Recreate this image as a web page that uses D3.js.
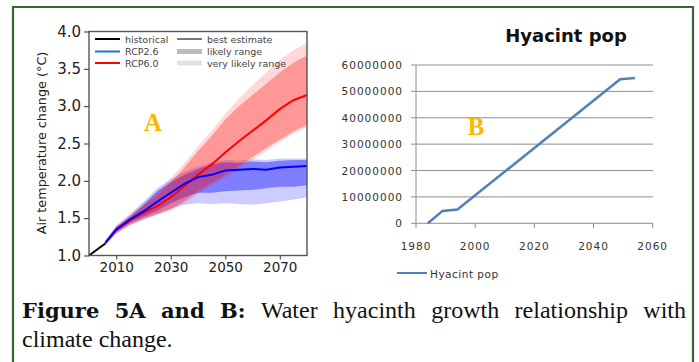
<!DOCTYPE html>
<html>
<head>
<meta charset="utf-8">
<script src="https://cdn.jsdelivr.net/npm/d3@7"></script>
<style>
body { margin: 0; background: #fff; }
</style>
</head>
<body>
<svg width="699" height="362"></svg>
<script>
// ---- panel A: air temperature change ----
var histYears = [2000, 2003, 2006];
var histValues = [1.0, 1.08, 1.16];

var rcpYears = [2006, 2010, 2015, 2020, 2025, 2030, 2035, 2040, 2045, 2050, 2055, 2060, 2065, 2070, 2075, 2080];

var rcp60Best     = [1.17, 1.34, 1.47, 1.57, 1.66, 1.78, 1.93, 2.08, 2.22, 2.38, 2.53, 2.67, 2.81, 2.96, 3.08, 3.15];
var rcp60Low      = [1.15, 1.30, 1.42, 1.50, 1.56, 1.62, 1.73, 1.86, 1.97, 2.08, 2.20, 2.32, 2.44, 2.55, 2.66, 2.75];
var rcp60High     = [1.19, 1.38, 1.52, 1.66, 1.80, 1.98, 2.18, 2.40, 2.60, 2.82, 3.00, 3.15, 3.30, 3.45, 3.58, 3.68];
var rcp60VeryLow  = [1.14, 1.28, 1.40, 1.48, 1.54, 1.60, 1.70, 1.82, 1.94, 2.04, 2.16, 2.28, 2.40, 2.52, 2.63, 2.72];
var rcp60VeryHigh = [1.20, 1.40, 1.55, 1.70, 1.85, 2.03, 2.24, 2.46, 2.67, 2.90, 3.10, 3.28, 3.45, 3.62, 3.75, 3.85];

var rcp26Best     = [1.17, 1.35, 1.48, 1.59, 1.72, 1.84, 1.96, 2.05, 2.08, 2.14, 2.15, 2.16, 2.15, 2.18, 2.19, 2.20];
var rcp26Low      = [1.15, 1.32, 1.44, 1.52, 1.60, 1.70, 1.78, 1.84, 1.84, 1.86, 1.87, 1.88, 1.90, 1.92, 1.92, 1.94];
var rcp26High     = [1.19, 1.38, 1.52, 1.68, 1.86, 1.98, 2.08, 2.16, 2.22, 2.25, 2.24, 2.26, 2.25, 2.27, 2.28, 2.28];
var rcp26VeryLow  = [1.14, 1.30, 1.41, 1.48, 1.55, 1.63, 1.68, 1.70, 1.69, 1.70, 1.69, 1.68, 1.70, 1.72, 1.75, 1.78];
var rcp26VeryHigh = [1.20, 1.40, 1.55, 1.72, 1.90, 2.02, 2.12, 2.19, 2.25, 2.28, 2.27, 2.29, 2.28, 2.30, 2.30, 2.30];

var tempTicks = [1.0, 1.5, 2.0, 2.5, 3.0, 3.5, 4.0];
var yearTicksA = [2010, 2030, 2050, 2070];

// ---- panel B: hyacinth population ----
var popYears = [1984, 1989, 1994, 2049, 2054];
var popValues = [0, 4700000, 5200000, 54600000, 55100000];
var popTicks = [0, 10000000, 20000000, 30000000, 40000000, 50000000, 60000000];
var yearTicksB = [1980, 2000, 2020, 2040, 2060];

var captionBold = 'Figure 5A and B:';
var captionLine1 = 'Water hyacinth growth relationship with';
var captionLine2 = 'climate change.';

var svg = d3.select('svg');

// outer green frame (open at the bottom)
svg.append('path')
    .attr('d', 'M13,363 L13,7 L693,7 L693,363')
    .attr('fill', 'none')
    .attr('stroke', '#3b6634')
    .attr('stroke-width', 2.2);

// ================= panel A =================
var xA = d3.scaleLinear().domain([2000, 2080]).range([89, 307]);
var yA = d3.scaleLinear().domain([1, 4]).range([255.5, 31.5]);

var gA = svg.append('g');

function band(lo, hi) {
    return d3.area()
        .x(function(d, i) { return xA(rcpYears[i]); })
        .y0(function(d, i) { return yA(lo[i]); })
        .y1(function(d, i) { return yA(hi[i]); })(rcpYears);
}
function line(years, vals) {
    return d3.line()
        .x(function(d, i) { return xA(years[i]); })
        .y(function(d, i) { return yA(vals[i]); })(years);
}

gA.append('path').attr('d', band(rcp26VeryLow, rcp26VeryHigh)).attr('fill', 'rgba(0,0,255,0.2)');
gA.append('path').attr('d', band(rcp26Low, rcp26High)).attr('fill', 'rgba(0,0,255,0.38)');
gA.append('path').attr('d', band(rcp60VeryLow, rcp60VeryHigh)).attr('fill', 'rgba(255,0,0,0.15)');
gA.append('path').attr('d', band(rcp60Low, rcp60High)).attr('fill', 'rgba(255,0,0,0.3)');

gA.append('path').attr('d', line(rcpYears, rcp60Best))
    .attr('fill', 'none').attr('stroke', '#ff0000').attr('stroke-width', 2);
gA.append('path').attr('d', line(rcpYears, rcp26Best))
    .attr('fill', 'none').attr('stroke', '#0000ff').attr('stroke-width', 2);
gA.append('path').attr('d', line(histYears, histValues))
    .attr('fill', 'none').attr('stroke', '#000').attr('stroke-width', 2);

// frame
gA.append('rect')
    .attr('x', 89).attr('y', 31.5)
    .attr('width', 218).attr('height', 224)
    .attr('fill', 'none').attr('stroke', '#555').attr('stroke-width', 1.4);

gA.append('g')
    .attr('transform', 'translate(89,0)')
    .call(d3.axisLeft(yA).tickValues(tempTicks).tickFormat(d3.format('.1f')).tickSize(5).tickPadding(3))
    .call(function(g) { g.select('.domain').remove(); })
    .call(function(g) {
        g.selectAll('text').attr('font-family', 'DejaVu Sans').attr('font-size', 15).attr('fill', '#222');
        g.selectAll('line').attr('stroke', '#333');
    });

gA.append('g')
    .attr('transform', 'translate(0,255.5)')
    .call(d3.axisBottom(xA).tickValues(yearTicksA).tickFormat(d3.format('d')).tickSize(4).tickPadding(3))
    .call(function(g) { g.select('.domain').remove(); })
    .call(function(g) {
        g.selectAll('text').attr('font-family', 'DejaVu Sans').attr('font-size', 13.5).attr('fill', '#222');
        g.selectAll('line').attr('stroke', '#333');
    });

gA.append('text')
    .attr('transform', 'translate(46,143) rotate(-90)')
    .attr('text-anchor', 'middle')
    .attr('font-family', 'DejaVu Sans')
    .attr('font-size', 12.8)
    .attr('fill', '#222')
    .text('Air temperature change (°C)');

// legend
var legA = [
    { x: 95, y: 39, label: 'historical', color: '#000', w: 2 },
    { x: 95, y: 51.5, label: 'RCP2.6', color: '#1f6fd0', w: 2 },
    { x: 95, y: 63, label: 'RCP6.0', color: '#ff0000', w: 2 },
    { x: 177, y: 39, label: 'best estimate', color: '#777', w: 2 },
    { x: 177, y: 51.5, label: 'likely range', color: '#bbb', w: 5 },
    { x: 177, y: 63, label: 'very likely range', color: '#e2e2e2', w: 5 }
];
legA.forEach(function(d) {
    gA.append('line')
        .attr('x1', d.x).attr('x2', d.x + 25)
        .attr('y1', d.y).attr('y2', d.y)
        .attr('stroke', d.color).attr('stroke-width', d.w);
    gA.append('text')
        .attr('x', d.x + 30).attr('y', d.y + 3.5)
        .attr('font-family', 'DejaVu Sans')
        .attr('font-size', 9.5)
        .attr('fill', '#444')
        .text(d.label);
});

gA.append('text')
    .attr('x', 153).attr('y', 131)
    .attr('text-anchor', 'middle')
    .attr('font-family', 'Liberation Serif')
    .attr('font-weight', 'bold')
    .attr('font-size', 25)
    .attr('fill', '#f6b800')
    .text('A');

// ================= panel B =================
var xB = d3.scaleLinear().domain([1980, 2060]).range([416, 652.7]);
var yB = d3.scaleLinear().domain([0, 60000000]).range([223.3, 65]);

var gB = svg.append('g');

gB.append('text')
    .attr('x', 566).attr('y', 42)
    .attr('text-anchor', 'middle')
    .attr('font-family', 'DejaVu Sans')
    .attr('font-weight', 'bold')
    .attr('font-size', 18)
    .attr('fill', '#111')
    .text('Hyacint pop');

// gridlines
gB.append('g')
    .selectAll('line')
    .data(popTicks)
    .enter().append('line')
    .attr('x1', 411).attr('x2', 653)
    .attr('y1', function(d) { return yB(d); })
    .attr('y2', function(d) { return yB(d); })
    .attr('stroke', '#8e8e8e').attr('stroke-width', 1);

gB.append('line')
    .attr('x1', 416).attr('x2', 416)
    .attr('y1', yB(60000000)).attr('y2', yB(0))
    .attr('stroke', '#8e8e8e');

gB.append('g')
    .selectAll('line')
    .data(yearTicksB)
    .enter().append('line')
    .attr('x1', function(d) { return xB(d); })
    .attr('x2', function(d) { return xB(d); })
    .attr('y1', yB(0)).attr('y2', yB(0) + 5)
    .attr('stroke', '#8e8e8e');

gB.append('g')
    .selectAll('text')
    .data(popTicks)
    .enter().append('text')
    .attr('x', 403)
    .attr('y', function(d) { return yB(d) + 4; })
    .attr('text-anchor', 'end')
    .attr('font-family', 'DejaVu Sans')
    .attr('font-size', 10.5)
    .attr('letter-spacing', 1)
    .attr('fill', '#333')
    .text(function(d) { return d; });

gB.append('g')
    .selectAll('text')
    .data(yearTicksB)
    .enter().append('text')
    .attr('x', function(d) { return xB(d); })
    .attr('y', 250)
    .attr('text-anchor', 'middle')
    .attr('font-family', 'DejaVu Sans')
    .attr('font-size', 10.5)
    .attr('letter-spacing', 1)
    .attr('fill', '#333')
    .text(function(d) { return d; });

gB.append('path')
    .attr('d', d3.line()
        .x(function(d, i) { return xB(popYears[i]); })
        .y(function(d, i) { return yB(popValues[i]); })(popYears))
    .attr('fill', 'none')
    .attr('stroke', '#4f81bd')
    .attr('stroke-width', 2.5);

gB.append('line')
    .attr('x1', 397).attr('x2', 427)
    .attr('y1', 273).attr('y2', 273)
    .attr('stroke', '#4f81bd').attr('stroke-width', 2);
gB.append('text')
    .attr('x', 430).attr('y', 277.5)
    .attr('font-family', 'DejaVu Sans')
    .attr('font-size', 10.5)
    .attr('letter-spacing', 0.5)
    .attr('fill', '#333')
    .text('Hyacint pop');

gB.append('text')
    .attr('x', 476).attr('y', 135)
    .attr('text-anchor', 'middle')
    .attr('font-family', 'Liberation Serif')
    .attr('font-weight', 'bold')
    .attr('font-size', 25)
    .attr('fill', '#f6b800')
    .text('B');

// ================= caption =================
var capLeft = 22, capRight = 686;
var gC = svg.append('g').attr('fill', '#111');

// line 1 is justified: bold words first, then regular words
var words = captionBold.split(' ').map(function(w) { return { t: w, bold: true }; })
    .concat(captionLine1.split(' ').map(function(w) { return { t: w, bold: false }; }));
var nodes = words.map(function(w) {
    return gC.append('text')
        .attr('y', 318)
        .attr('font-family', w.bold ? 'DejaVu Serif' : 'Liberation Serif')
        .attr('font-size', w.bold ? 21 : 24)
        .attr('font-weight', w.bold ? 'bold' : 'normal')
        .text(w.t);
});
var widths = nodes.map(function(n) { return n.node().getComputedTextLength(); });
var gap = (capRight - capLeft - d3.sum(widths)) / (nodes.length - 1);
var cx = capLeft;
nodes.forEach(function(n, i) {
    n.attr('x', cx);
    cx += widths[i] + gap;
});

gC.append('text')
    .attr('x', capLeft).attr('y', 347)
    .attr('font-family', 'Liberation Serif')
    .attr('font-size', 24)
    .text(captionLine2);
</script>
</body>
</html>
